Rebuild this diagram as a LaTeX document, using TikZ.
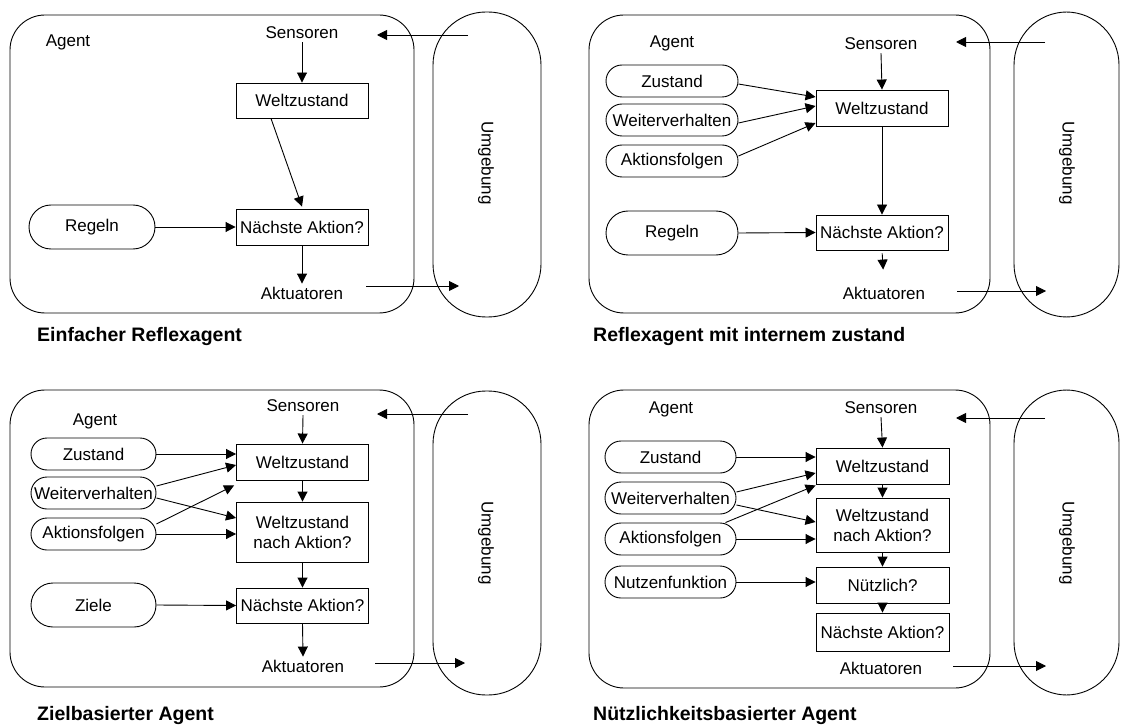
\documentclass[tikz,border=0pt]{standalone}
\usepackage{fontspec}
\setmainfont{Liberation Sans}
\usetikzlibrary{arrows.meta,calc}
\begin{document}
\begin{tikzpicture}[x=1pt,y=-1pt,
  lbl/.style={inner sep=3pt,font=\fontsize{17pt}{20pt}\selectfont},
  box/.style={draw,line width=0.9pt,inner sep=1pt,minimum width=132pt,minimum height=36pt,align=center,font=\fontsize{17pt}{20pt}\selectfont},
  pill/.style={draw,line width=0.9pt,inner sep=1pt,rounded corners=16pt,minimum width=132pt,minimum height=32pt,font=\fontsize{17pt}{20pt}\selectfont},
  bigpill/.style={pill,rounded corners=22pt,minimum height=44pt},
  frame/.style={draw,line width=0.9pt,rounded corners=35pt},
  env/.style={draw,line width=0.9pt,rounded corners=53pt},
  arr/.style={line width=0.9pt,-{Triangle[length=10pt,width=10pt]}},
  title/.style={anchor=west,inner sep=0pt,font=\fontsize{19.5pt}{22pt}\selectfont\bfseries}]
\useasboundingbox (0,0) rectangle (1124,727);

% ---------- Einfacher Reflexagent ----------
\draw[frame] (10,15) rectangle (414,313);
\draw[env] (433,12) rectangle (541,317);
\node[lbl] (a-agent) at (68,42) {Agent};
\node[lbl] (a-sen) at (302,33) {Sensoren};
\node[box,minimum height=35pt] (a-welt) at (302,100.5) {Weltzustand};
\node[box] (a-next) at (302,227) {Nächste Aktion?};
\node[bigpill,minimum width=126pt] (a-reg) at (92,227) {Regeln};
\node[lbl] (a-akt) at (302,293) {Aktuatoren};
\node[lbl,rotate=-90] (a-env) at (486,163) {Umgebung};
\coordinate (a-in) at (468,35);
\coordinate (a-intip) at (377,35);
\coordinate (a-out) at (366,286);
\coordinate (a-outtip) at (459,286);
\draw[arr] (a-in) -- (a-intip);
\draw[arr] (a-sen.south) -- (a-welt.north);
\draw[arr] ([xshift=-31pt]a-welt.south) -- ([yshift=2pt]a-next.north);
\draw[arr] (a-reg.east) -- (a-next.west);
\draw[arr] (a-next.south) -- (a-akt.north);
\draw[arr] (a-out) -- (a-outtip);
\node[title] (a-title) at (37,337) {Einfacher Reflexagent};

% ---------- Reflexagent mit internem Zustand ----------
\draw[frame] (589,15) rectangle (990,313);
\draw[env] (1014,12) rectangle (1119,317);
\node[lbl] (b-agent) at (672,43) {Agent};
\node[lbl] (b-sen) at (881,44) {Sensoren};
\node[box] (b-welt) at (882,108) {Weltzustand};
\node[box,minimum height=35pt] (b-next) at (882,232.5) {Nächste Aktion?};
\node[pill] (b-zus) at (672,81) {Zustand};
\node[pill] (b-wei) at (672,120) {Weiterverhalten};
\node[pill] (b-akf) at (672,161) {Aktionsfolgen};
\node[bigpill] (b-reg) at (672,233) {Regeln};
\node[lbl] (b-akt) at (884,293) {Aktuatoren};
\node[lbl,rotate=-90] (b-env) at (1067,163) {Umgebung};
\coordinate (b-in) at (1045,42);
\coordinate (b-intip) at (956,42);
\coordinate (b-out) at (957,291);
\coordinate (b-outtip) at (1046,291);
\draw[arr] (b-in) -- (b-intip);
\draw[arr] (b-sen.south) -- (b-welt.north);
\draw[arr] ([yshift=-3pt]b-zus.east) -- ([yshift=11pt]b-welt.west);
\draw[arr] ([yshift=-3pt]b-wei.east) -- ([yshift=2pt]b-welt.west);
\draw[arr] ([yshift=5pt]b-akf.east) -- ([yshift=-15pt]b-welt.west);
\draw[arr] (b-welt.south) -- (b-next.north);
\draw[arr] (b-reg.east) -- (b-next.west);
\draw[arr,shorten <=3pt,shorten >=14pt] (b-next.south) -- (b-akt.north);
\draw[arr] (b-out) -- (b-outtip);
\node[title] (b-title) at (593,337) {Reflexagent mit internem zustand};

% ---------- Zielbasierter Agent ----------
\draw[frame] (10,390) rectangle (414,687);
\draw[env] (433,391) rectangle (541,695);
\node[lbl] (c-agent) at (95,421) {Agent};
\node[lbl] (c-sen) at (303,406) {Sensoren};
\node[box] (c-welt) at (302.5,462) {Weltzustand};
\node[box,minimum height=60pt] (c-wna) at (302.5,532) {Weltzustand\\nach Aktion?};
\node[box,minimum height=35pt] (c-next) at (302.5,605.5) {Nächste Aktion?};
\node[pill,minimum width=125pt] (c-zus) at (93.5,454) {Zustand};
\node[pill,minimum width=125pt] (c-wei) at (93.5,493) {Weiterverhalten};
\node[pill,minimum width=125pt] (c-akf) at (93.5,534) {Aktionsfolgen};
\node[bigpill,minimum width=125pt] (c-ziel) at (93.5,605) {Ziele};
\node[lbl] (c-akt) at (303,666) {Aktuatoren};
\node[lbl,rotate=-90] (c-env) at (486,543) {Umgebung};
\coordinate (c-in) at (468,414);
\coordinate (c-intip) at (377,414);
\coordinate (c-out) at (375,663);
\coordinate (c-outtip) at (465,663);
\draw[arr] (c-in) -- (c-intip);
\draw[arr] (c-sen.south) -- (c-welt.north);
\draw[arr] (c-welt.south) -- (c-wna.north);
\draw[arr] (c-wna.south) -- (c-next.north);
\draw[arr] (c-next.south) -- (c-akt.north);
\draw[arr] (c-zus.east) -- (c-zus.east -| c-welt.west);
\draw[arr] ([yshift=7pt]c-wei.east) -- ([yshift=-3pt]c-welt.west);
\draw[arr] ([yshift=10pt]c-akf.east) -- ([xshift=-2pt,yshift=-5pt]c-welt.south west);
\draw[arr] ([yshift=-5pt]c-wei.east) -- ([yshift=14pt]c-wna.west);
\draw[arr] (c-akf.east) -- (c-akf.east -| c-wna.west);
\draw[arr] (c-ziel.east) -- (c-next.west);
\draw[arr] (c-out) -- (c-outtip);
\node[title] (c-title) at (37,715) {Zielbasierter Agent};

% ---------- Nützlichkeitsbasierter Agent ----------
\draw[frame] (589,390) rectangle (990,688);
\draw[env] (1014,390) rectangle (1119,695);
\node[lbl] (d-agent) at (671,409) {Agent};
\node[lbl] (d-sen) at (881,408) {Sensoren};
\node[box,minimum width=133pt] (d-welt) at (882.5,466) {Weltzustand};
\node[box,minimum width=133pt,minimum height=54pt] (d-wna) at (882.5,525) {Weltzustand\\nach Aktion?};
\node[box,minimum width=133pt] (d-nutz) at (882.5,585) {Nützlich?};
\node[box,minimum width=133pt,minimum height=38pt] (d-next) at (882.5,632) {Nächste Aktion?};
\node[pill,minimum width=131pt] (d-zus) at (670.5,457) {Zustand};
\node[pill,minimum width=131pt] (d-wei) at (670.5,498) {Weiterverhalten};
\node[pill,minimum width=131pt] (d-akf) at (670.5,539) {Aktionsfolgen};
\node[pill,minimum width=131pt] (d-nf) at (670.5,582) {Nutzenfunktion};
\node[lbl] (d-akt) at (881,668) {Aktuatoren};
\node[lbl,rotate=-90] (d-env) at (1067,543) {Umgebung};
\coordinate (d-in) at (1045,418);
\coordinate (d-intip) at (956,418);
\coordinate (d-out) at (953,666);
\coordinate (d-outtip) at (1046,666);
\draw[arr] (d-in) -- (d-intip);
\draw[arr] (d-sen.south) -- (d-welt.north);
\draw[arr] (d-welt.south) -- (d-wna.north);
\draw[arr] (d-wna.south) -- (d-nutz.north);
\draw[arr] (d-nutz.south) -- (d-next.north);
\draw[arr] (d-zus.east) -- (d-zus.east -| d-welt.west);
\draw[arr] ([yshift=6pt]d-wei.east) -- ([yshift=-7pt]d-welt.west);
\draw[arr] ([xshift=-11pt]d-akf.north east) -- ([yshift=-1pt]d-welt.south west);
\draw[arr] ([yshift=-7pt]d-wei.east) -- ([yshift=3pt]d-wna.west);
\draw[arr] (d-akf.east) -- (d-akf.east -| d-wna.west);
\draw[arr] (d-nf.east) -- (d-nf.east -| d-nutz.west);
\draw[arr] (d-out) -- (d-outtip);
\node[title] (d-title) at (593,715) {Nützlichkeitsbasierter Agent};
\end{tikzpicture}
\end{document}
